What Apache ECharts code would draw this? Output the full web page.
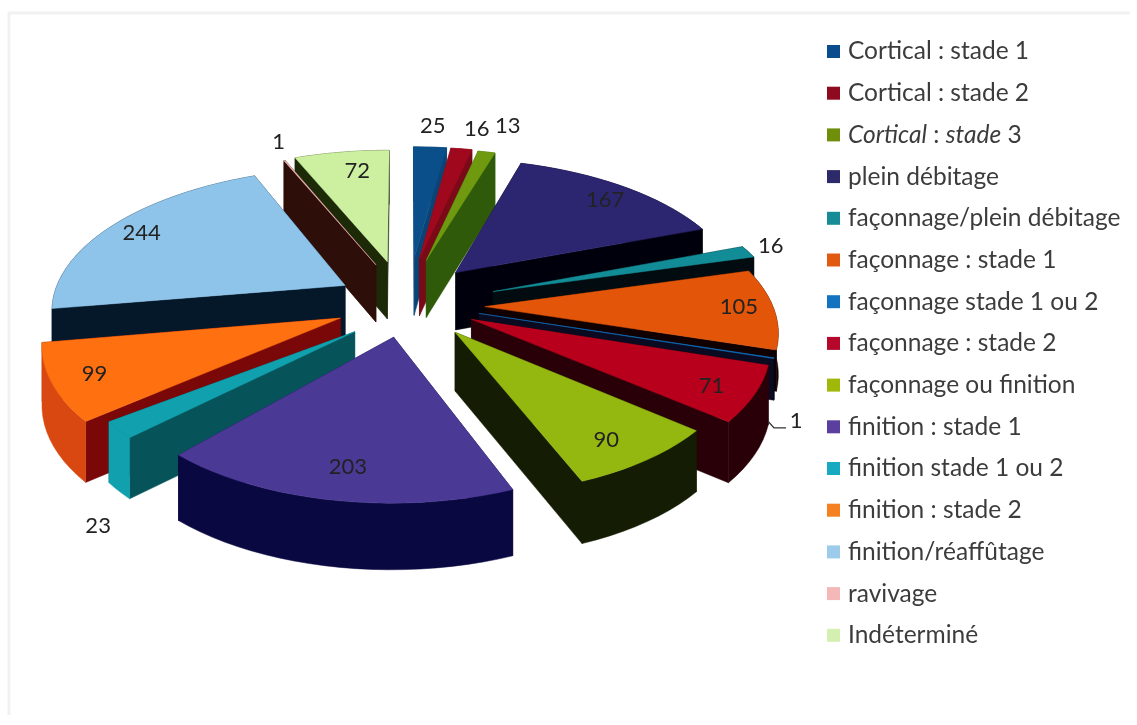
<!DOCTYPE html>
<html><head><meta charset="utf-8">
<style>html,body{margin:0;padding:0;background:#fff}#c{width:1137px;height:725px;filter:blur(.5px)}</style>
<script src="https://cdn.jsdelivr.net/npm/echarts@6/dist/echarts.min.js"></script>
</head><body><div id="c"></div>
<script>
const categories = ['Cortical : stade 1','Cortical : stade 2','Cortical : stade 3','plein débitage','façonnage/plein débitage','façonnage : stade 1','façonnage stade 1 ou 2','façonnage : stade 2','façonnage ou finition','finition : stade 1','finition stade 1 ou 2','finition : stade 2','finition/réaffûtage','ravivage','Indéterminé'];
const values = [25,16,13,167,16,105,1,71,90,203,23,99,244,1,72];
const legendColors = ['#0b4d8c','#8f0a1e','#6f8f0a','#2d2a6a','#178c96','#e05a10','#1273c0','#b5082a','#a0b80a','#5a3f9e','#18aac0','#f58020','#9ccbeb','#f4b8b8','#d4f0b0'];
const topColors = ['#0a4f8a','#a0081e','#6f9a10','#2c2570','#128c96','#e3560a','#1273c0','#b8001c','#95b810','#4a3a96','#10a0ae','#ff7010','#8ec4ea','#f4b8b8','#cdf0a0'];
const radialWalls = ['#0a4476','#7a0a18','#2f5a0a','#00000c','#020c10','#100000','#0a0a20','#2a0008','#141c04','#0a0840','#06545a','#7a0808','#04182a','#2e0e08','#1c2a08'];
const outerWalls = ['#0a4476','#7a0a18','#2f5a0a','#00000c','#020c10','#100000','#0a0a20','#2a0008','#141c04','#0a0840','#10a0ae','#d84810','#04182a','#2e0e08','#1c2a08'];
/* layout tables */
const sliceNudge = [[7,-6],[4,-6],[5,-5],[2,-1],[18,3],[5,6],[2,2],[0,1],[6,1],[6,-1],[10,5],[10,2],[10,3],[3,-2],[0,-3]];
const sliceScale = [1,1,1,1,1,1,1,1,.94,.945,.93,1,1.02,1,1];
const sliceTurn = [0,0,0,0,0,0,0,0,0,0,.06,0,0,0,0];
const sliceDepth = [1,1,1,1,1,.7,.7,1,1,1.06,1,1,1,1,1];
const labelRadius = [1.12,1.12,1.12,.72,1.1,.8,1.1,.8,.75,.72,1.15,.8,.72,1.1,.72];
const labelNudge = [[8,-16],[15,-15],[20,-20],[27,-10],[16,1],[28,4],[-7,60],[17,9],[8,10],[5,9],[40,65],[-8,7],[-27,-6],[5,-12],[4,-12]];

const total = values.reduce((a,b)=>a+b,0);
const CX=402, CY=300, RX=288, RY=138, K=.15, E=.27, DEPTH=58;
const cum=[]; values.reduce((a,v,i)=>(cum[i]=a,a+v),0);
const rad=v=>v/total*Math.PI*2;
function proj(px,pz){const s=1/(1+K*pz);return {x:CX+RX*px*s,y:CY-RY*pz*s,s};}
function base(i,t,r){const m=rad(cum[i]+values[i]/2);
  return proj(E*Math.sin(m)+r*Math.sin(t),E*Math.cos(m)+r*Math.cos(t));}
function pt(i,t,r){const rr=r*sliceScale[i], tt=t+sliceTurn[i];
  const p=base(i,tt,rr);
  return {x:p.x+sliceNudge[i][0],y:p.y+sliceNudge[i][1],s:p.s};}
const up=p=>[p.x,p.y];
function poly(points,fill){return {type:'polygon',shape:{points},style:{fill,stroke:fill,lineWidth:.5}};}
function makeRender(i){return function(params,api){
  const dn=p=>[p.x,p.y+DEPTH*sliceDepth[i]*Math.pow(p.s,.4)];
  const v=api.value(0), a0=rad(cum[i]), a1=a0+rad(v), n=Math.max(2,Math.ceil((a1-a0)/0.05));
  const arc=[]; for(let k=0;k<=n;k++)arc.push(pt(i,a0+(a1-a0)*k/n,1));
  const apex=pt(i,a0,0), children=[];
  const startW=poly([up(arc[0]),up(apex),dn(apex),dn(arc[0])],radialWalls[i]);
  const endW=poly([up(arc[n]),up(apex),dn(apex),dn(arc[n])],radialWalls[i]);
  const outer=poly(arc.map(up).concat(arc.slice().reverse().map(dn)),outerWalls[i]);
  const mid=(a0+a1)/2;
  if(Math.cos(mid)>0)children.push(outer,startW,endW);else children.push(startW,endW,outer);
  children.push(poly(arc.map(up).concat([up(apex)]),topColors[i]));
  const a=base(i,mid,labelRadius[i]);
  const lx=a.x+labelNudge[i][0], ly=a.y+labelNudge[i][1];
  children.push({type:'text',z2:50,style:{text:String(v),x:lx,y:ly,align:'center',verticalAlign:'middle',font:'22px Lato',fill:'#222'}});
  return {type:'group',children};
};}
/* leader line of the thin "façonnage stade 1 ou 2" slice, drawn above every slice */
const leaderIndex=6;
function renderLeader(params,api){
  const i=leaderIndex, mid=rad(cum[i]+api.value(0)/2), rim=pt(i,mid,1);
  const a=base(i,mid,labelRadius[i]), lx=a.x+labelNudge[i][0], ly=a.y+labelNudge[i][1];
  const sx=lx-28, sy=rim.y+DEPTH+5;
  return {type:'polyline',shape:{points:[[sx,sy],[lx-22,ly+7],[lx-10,ly+7]]},style:{fill:'none',stroke:'#333',lineWidth:1.3}};
}
const order=values.map((v,i)=>i).sort((p,q)=>Math.cos(rad(cum[q]+values[q]/2))-Math.cos(rad(cum[p]+values[p]/2)));
const series=categories.map((name,i)=>({
  type:'custom',name,coordinateSystem:'none',silent:true,animation:false,
  z:2+order.indexOf(i),itemStyle:{color:legendColors[i]},
  data:[[values[i]]],renderItem:makeRender(i)
}));
series.push({type:'custom',coordinateSystem:'none',silent:true,animation:false,z:40,data:[[values[leaderIndex]]],renderItem:renderLeader});
const chart=echarts.init(document.getElementById('c'),null,{renderer:'canvas'});
chart.setOption({
  backgroundColor:'#ffffff',animation:false,
  graphic:[{type:'polyline',silent:true,z:0,shape:{points:[[9,715],[9,13],[1130,13]]},style:{fill:'none',stroke:'#f1f1f1',lineWidth:3}}],
  legend:{orient:'vertical',left:822,top:34,icon:'rect',itemWidth:13,itemHeight:13,itemGap:16.7,selectedMode:false,
    data:categories,
    formatter:n=>n==='Cortical : stade 3'?'{i|Cortical} : {i|stade} 3':n,
    textStyle:{fontFamily:'Lato',fontSize:24.5,color:'#3c3c3c',lineHeight:24,padding:[0,0,0,3],rich:{i:{fontFamily:'Lato',fontStyle:'italic',fontSize:24.5,color:'#3c3c3c'}}}},
  series
});
</script></body></html>
